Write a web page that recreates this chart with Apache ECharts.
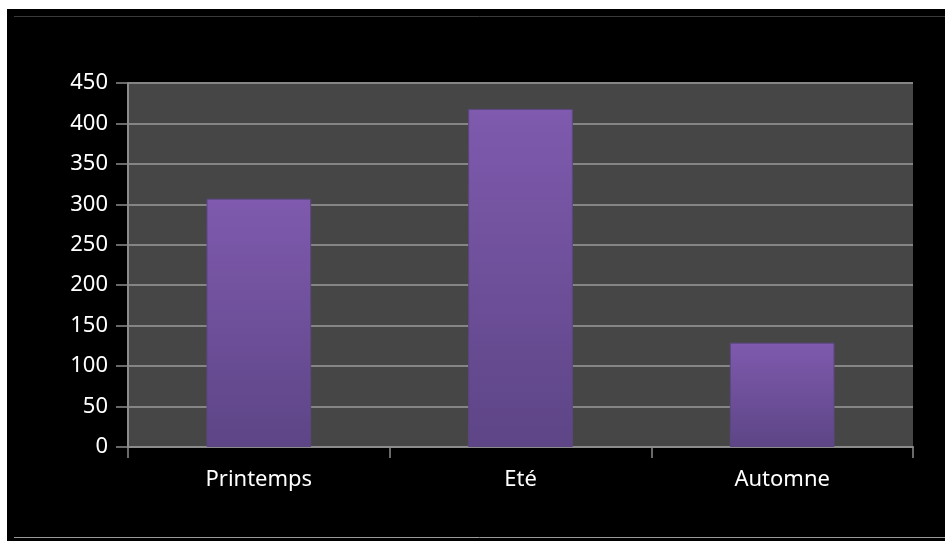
<!DOCTYPE html>
<html>
<head>
<meta charset="utf-8">
<script src="https://cdn.jsdelivr.net/npm/echarts@6/dist/echarts.min.js"></script>
<style>
  html, body { margin: 0; padding: 0; background: #ffffff; }
  #chart { width: 945px; height: 541px; }
</style>
</head>
<body>
<div id="chart"></div>
<script>
// Seasonal totals
const categories = ['Printemps', 'Eté', 'Automne'];
const values = [307, 418, 129];
const yTicks = [0, 50, 100, 150, 200, 250, 300, 350, 400, 450];

const chart = echarts.init(document.getElementById('chart'), null, { renderer: 'canvas' });

const font = '"Noto Sans", "Open Sans", sans-serif';

chart.setOption({
  backgroundColor: '#ffffff',
  animation: false,
  graphic: [
    // black panel with thin rules top and bottom
    { type: 'rect', z: -10, shape: { x: 7, y: 9, width: 938, height: 532 }, style: { fill: '#000000' } },
    { type: 'line', z: -9, shape: { x1: 14, y1: 16.5, x2: 945, y2: 16.5 }, style: { stroke: '#3a3a3a', lineWidth: 1 } },
    { type: 'line', z: -9, shape: { x1: 14, y1: 537.5, x2: 945, y2: 537.5 }, style: { stroke: '#9a9a9a', lineWidth: 1 } }
  ],
  grid: {
    left: 128, top: 83, right: 32, bottom: 94,
    show: true, backgroundColor: '#464646', borderWidth: 0
  },
  xAxis: {
    type: 'category',
    data: categories,
    boundaryGap: true,
    axisLine: { show: true, lineStyle: { color: '#8c8c8c', width: 2 } },
    axisTick: { show: true, alignWithLabel: false, length: 11, lineStyle: { color: '#8c8c8c', width: 1.5 } },
    axisLabel: { color: '#ffffff', fontFamily: font, fontSize: 22, margin: 22 },
    splitLine: { show: false }
  },
  yAxis: {
    type: 'value',
    min: yTicks[0],
    max: yTicks[yTicks.length - 1],
    interval: yTicks[1] - yTicks[0],
    axisLine: { show: true, lineStyle: { color: '#8c8c8c', width: 2 } },
    axisTick: { show: true, length: 12, lineStyle: { color: '#8c8c8c', width: 1.5 } },
    axisLabel: { color: '#ffffff', fontFamily: font, fontSize: 22, margin: 20 },
    splitLine: { show: true, lineStyle: { color: '#858585', width: 2 } }
  },
  series: [{
    type: 'bar',
    data: values,
    barWidth: '40%',
    itemStyle: {
      color: new echarts.graphic.LinearGradient(0, 0, 0, 1, [
        { offset: 0, color: '#7f5aae' },
        { offset: 1, color: '#5d4586' }
      ]),
      borderColor: '#5c4782',
      borderWidth: 1
    }
  }]
});
</script>
</body>
</html>
